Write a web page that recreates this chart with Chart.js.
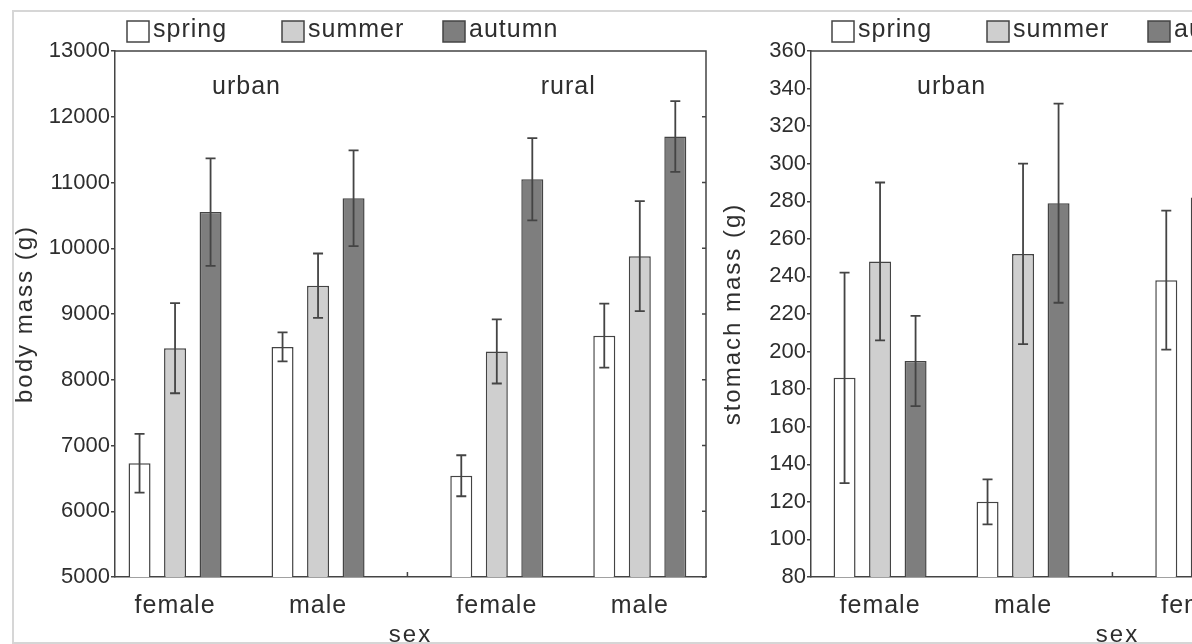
<!DOCTYPE html>
<html>
<head>
<meta charset="utf-8">
<script src="https://cdn.jsdelivr.net/npm/chart.js@4/dist/chart.umd.min.js"></script>
<style>
  html, body { margin: 0; padding: 0; background: #fff; }
  body { width: 1192px; height: 644px; overflow: hidden; position: relative; }
  #frame { position: absolute; left: 12px; top: 10px; width: 1300px; height: 630px;
           border-top: 2px solid #d6d6d6; border-left: 2px solid #d6d6d6; border-bottom: 2px solid #d6d6d6; }
  canvas { position: absolute; top: 0; }
  #bodyChart { left: 0; }
  #stomachChart { left: 710px; }
</style>
</head>
<body>
<div id="frame"></div>
<canvas id="bodyChart" width="720" height="644"></canvas>
<canvas id="stomachChart" width="728" height="644"></canvas>
<script>
// two panels: body mass and stomach mass by sex, settlement and season

const settlements = ["urban", "rural"];
const sexLabels = ["female", "male", "female", "male"];   // urban f, urban m, rural f, rural m
const seasons = ["spring", "summer", "autumn"];

// body mass (g), mean and error
const bodySpring = [6730, 8500, 6540, 8670];
const bodySummer = [8480, 9430, 8430, 9880];
const bodyAutumn = [10550, 10760, 11050, 11700];
const bodySpringErr = [447, 220, 312, 487];
const bodySummerErr = [685, 490, 487, 836];
const bodyAutumnErr = [818, 728, 625, 538];

// stomach mass (g), rural part is cut off in the picture
const stomachSpring = [186, 120, 238, null];
const stomachSummer = [248, 252, 282, null];
const stomachAutumn = [195, 279, null, null];
const stomachSpringErr = [56, 12, 37, null];
const stomachSummerErr = [42, 48, null, null];
const stomachAutumnErr = [24, 53, null, null];

const bodyTicks = [5000, 13000, 1000];
const stomachTicks = [80, 360, 20];

const seasonFill = ["#ffffff", "#cfcfcf", "#7e7e7e"];
const lineColor = "#444444";
const textColor = "#2e2e2e";
const family = "'Liberation Sans', Arial, sans-serif";

Chart.defaults.font.family = family;
Chart.defaults.color = textColor;

// rural groups sit after a wider gap
const groupX = sexLabels.map((s, i) => i + (i >= 2 ? 0.25 : 0));

function spaced(scale, method, px) {
    const orig = scale[method];
    scale[method] = function (...args) {
        const old = this.ctx.letterSpacing;
        this.ctx.letterSpacing = px;
        orig.apply(this, args);
        this.ctx.letterSpacing = old;
    };
}

const panelDecor = {
    id: "panelDecor",
    beforeDraw(chart) {
        if (chart.$spaced) return;
        chart.$spaced = true;
        spaced(chart.scales.x, "drawLabels", "1px");
        spaced(chart.scales.x, "drawTitle", "2px");
        spaced(chart.scales.y, "drawTitle", "2px");
    },
    afterDatasetsDraw(chart) {
        const { ctx } = chart;
        const y = chart.scales.y;
        ctx.save();
        ctx.strokeStyle = lineColor;
        ctx.lineWidth = 1.8;
        chart.data.datasets.forEach((ds, d) => {
            chart.getDatasetMeta(d).data.forEach((bar, i) => {
                const v = ds.data[i].y;
                const e = ds.errors[i];
                if (v == null || e == null) return;
                const top = y.getPixelForValue(v + e);
                const bot = y.getPixelForValue(v - e);
                ctx.beginPath();
                ctx.moveTo(bar.x, top); ctx.lineTo(bar.x, bot);
                ctx.moveTo(bar.x - 5, top); ctx.lineTo(bar.x + 5, top);
                ctx.moveTo(bar.x - 5, bot); ctx.lineTo(bar.x + 5, bot);
                ctx.stroke();
            });
        });
        ctx.restore();
    },
    afterDraw(chart, args, opts) {
        const { ctx, chartArea: a } = chart;
        const x = chart.scales.x;
        const y = chart.scales.y;
        ctx.save();
        ctx.strokeStyle = lineColor;
        ctx.lineWidth = 1.5;
        // top and right side of the box
        ctx.beginPath();
        ctx.moveTo(a.left, a.top); ctx.lineTo(a.right, a.top); ctx.lineTo(a.right, a.bottom);
        y.ticks.forEach(t => {
            const py = y.getPixelForValue(t.value);
            ctx.moveTo(a.right, py); ctx.lineTo(a.right - 4, py);
        });
        // small mark between urban and rural
        const sep = x.getPixelForValue((groupX[1] + groupX[2]) / 2);
        ctx.moveTo(sep, a.bottom); ctx.lineTo(sep, a.bottom - 5);
        ctx.stroke();

        ctx.letterSpacing = "1px";
        ctx.font = "25px " + family;
        ctx.fillStyle = textColor;
        ctx.textAlign = "center";
        ctx.textBaseline = "alphabetic";
        settlements.forEach((name, g) => {
            const cx = (x.getPixelForValue(groupX[2 * g]) + x.getPixelForValue(groupX[2 * g + 1])) / 2;
            ctx.fillText(name, cx, a.top + 43);
        });

        // legend
        const offsets = [0, 155, 316];
        ctx.textAlign = "left";
        chart.data.datasets.forEach((ds, i) => {
            const bx = a.left + opts.legendX + offsets[i];
            ctx.fillStyle = ds.backgroundColor;
            ctx.fillRect(bx, 21, 22, 21);
            ctx.strokeRect(bx, 21, 22, 21);
            ctx.fillStyle = textColor;
            ctx.fillText(ds.label, bx + 26, 37);
        });
        ctx.restore();
    }
};

function makeDatasets(values, errors) {
    return seasons.map((name, s) => ({
        label: name,
        data: values[s].map((v, i) => ({ x: groupX[i], y: v })),
        errors: errors[s],
        backgroundColor: seasonFill[s],
        borderColor: lineColor,
        borderWidth: 1.5,
        borderSkipped: false,
        categoryPercentage: 0.745,
        barPercentage: 0.62
    }));
}

function makePanel(id, cfg) {
    new Chart(document.getElementById(id), {
        type: "bar",
        data: { datasets: makeDatasets(cfg.values, cfg.errors) },
        plugins: [panelDecor],
        options: {
            responsive: false,
            animation: false,
            devicePixelRatio: 1,
            layout: { padding: { left: cfg.padLeft, right: 14, top: 51, bottom: 0 } },
            plugins: {
                legend: { display: false },
                tooltip: { enabled: false },
                panelDecor: { legendX: cfg.legendX }
            },
            scales: {
                x: {
                    type: "linear",
                    min: cfg.xRange[0],
                    max: cfg.xRange[1],
                    offset: false,
                    afterBuildTicks: s => { s.ticks = groupX.map(v => ({ value: v })); },
                    ticks: {
                        autoSkip: false,
                        maxRotation: 0,
                        padding: 6,
                        font: { size: 25 },
                        color: textColor,
                        callback: (v, i) => sexLabels[i]
                    },
                    grid: { display: false },
                    border: { color: lineColor, width: 1.5 },
                    title: { display: true, text: "sex", font: { size: 24 }, color: textColor, padding: { top: 0, bottom: -6 } },
                    afterFit: s => { s.height = 67; }
                },
                y: {
                    min: cfg.ticks[0],
                    max: cfg.ticks[1],
                    ticks: {
                        stepSize: cfg.ticks[2],
                        padding: 1,
                        font: { size: 22 },
                        color: textColor,
                        callback: v => String(v)
                    },
                    grid: { drawOnChartArea: false, tickLength: 4, color: lineColor, lineWidth: 1.5 },
                    border: { color: lineColor, width: 1.5 },
                    title: { display: true, text: cfg.yTitle, font: { size: 24 }, color: textColor, padding: { top: 1, bottom: 0 } },
                    afterFit: s => { s.width = cfg.axisWidth; }
                }
            }
        }
    });
}

window.onload = function () {
    makePanel("bodyChart", {
        values: [bodySpring, bodySummer, bodyAutumn],
        errors: [bodySpringErr, bodySummerErr, bodyAutumnErr],
        ticks: bodyTicks,
        yTitle: "body mass (g)",
        xRange: [-0.42, 3.713],
        padLeft: 10,
        axisWidth: 105,
        legendX: 12
    });
    makePanel("stomachChart", {
        values: [stomachSpring, stomachSummer, stomachAutumn],
        errors: [stomachSpringErr, stomachSummerErr, stomachAutumnErr],
        ticks: stomachTicks,
        yTitle: "stomach mass (g)",
        xRange: [-0.483, 3.804],
        padLeft: 8,
        axisWidth: 93,
        legendX: 21
    });
};
</script>
</body>
</html>
